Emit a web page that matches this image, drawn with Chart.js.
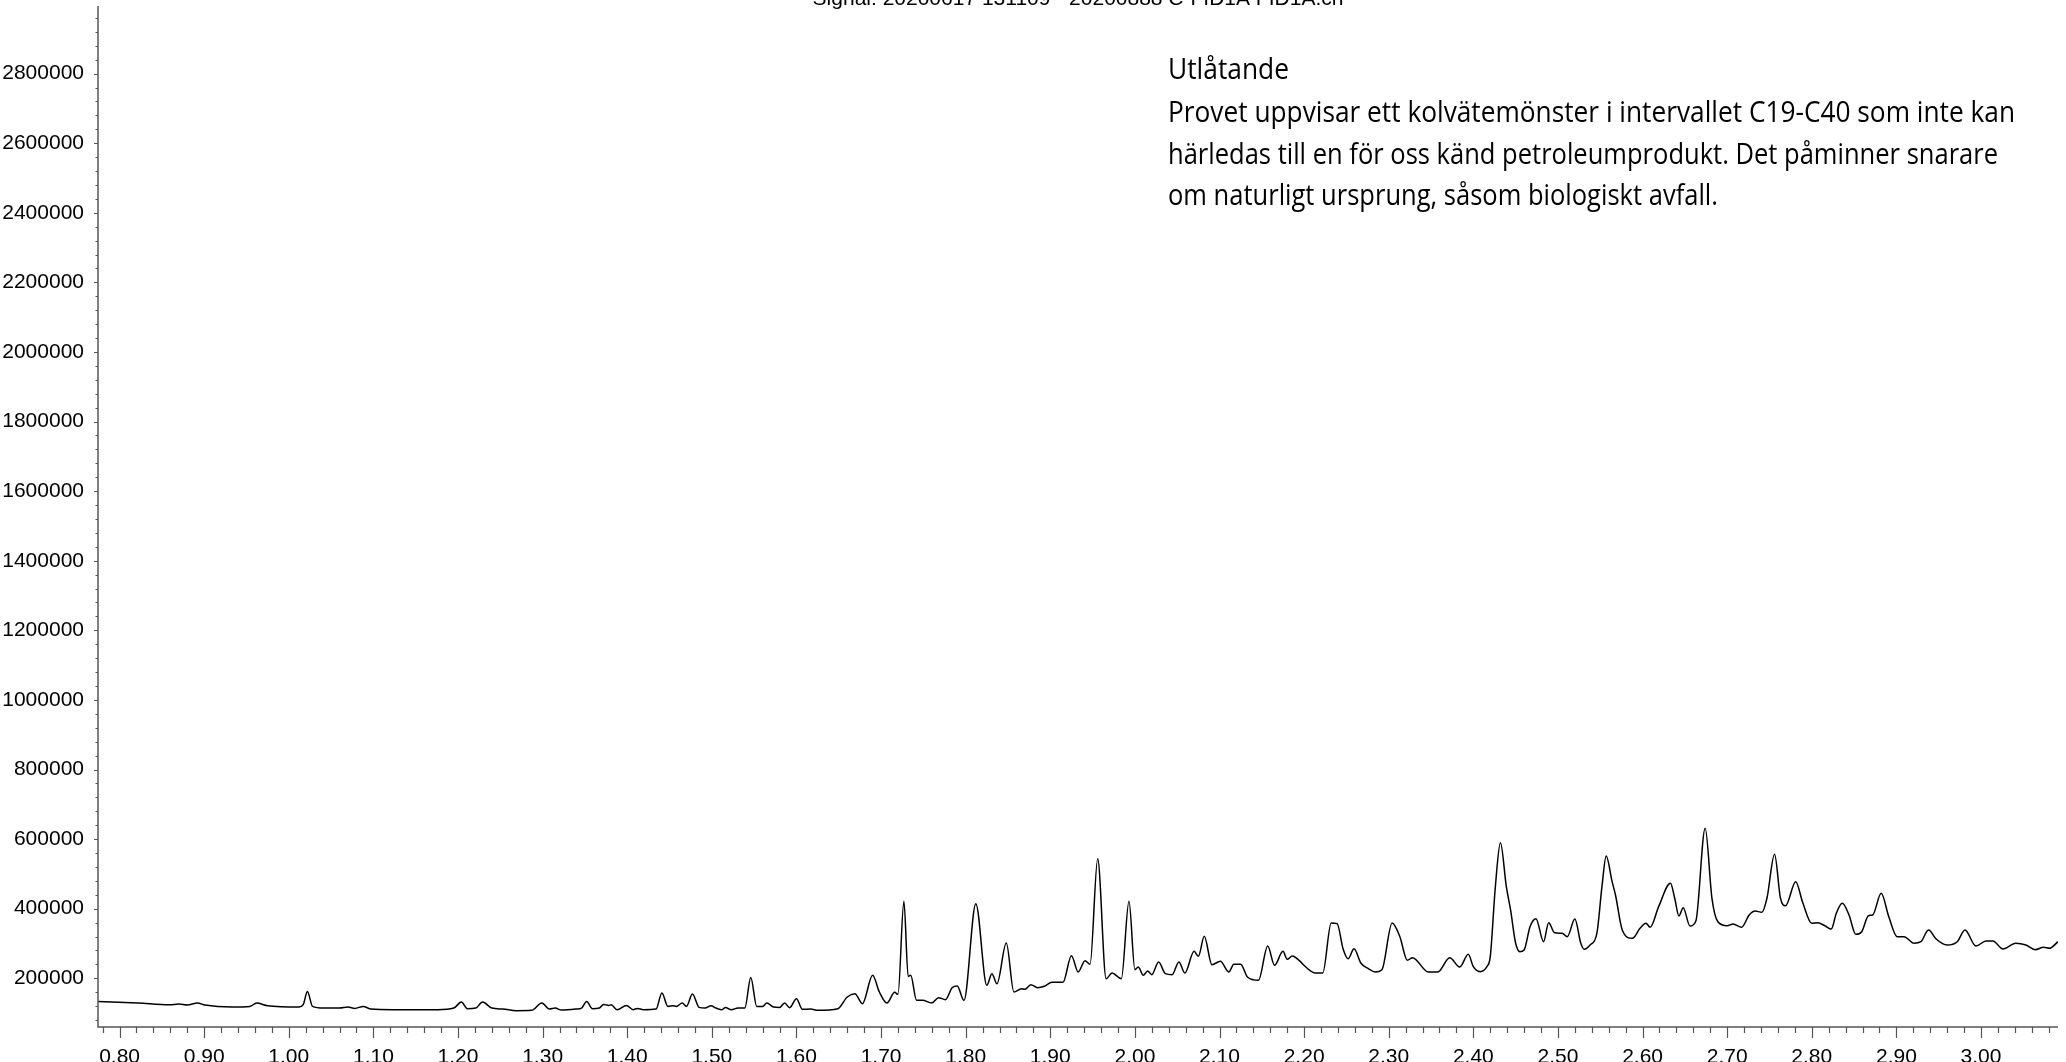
<!DOCTYPE html>
<html>
<head>
<meta charset="utf-8">
<script src="https://cdn.jsdelivr.net/npm/chart.js@4.4.1/dist/chart.umd.min.js"></script>
<style>
  html, body { margin: 0; padding: 0; background: #fff; overflow: hidden; }
  #wrap { width: 2066px; height: 1062px; }
</style>
</head>
<body>
<div id="wrap"><canvas id="chromatogram" width="2066" height="1062"></canvas></div>
<script>
// Retention time (min) and detector response (counts) along the FID trace
const retentionTime = [
  0.7745, 0.822, 0.859, 0.870, 0.880, 0.892, 0.901, 0.933, 0.954, 0.962, 0.975,
  1.012, 1.017, 1.022, 1.028, 1.041, 1.060, 1.070, 1.078, 1.088, 1.097, 1.123,
  1.176, 1.195, 1.204, 1.211, 1.221, 1.229, 1.240, 1.253, 1.269, 1.287, 1.299,
  1.308, 1.315, 1.322, 1.340, 1.346, 1.352, 1.359, 1.367, 1.372, 1.378, 1.381,
  1.388, 1.399, 1.407, 1.412, 1.419, 1.434, 1.441, 1.448, 1.454, 1.458, 1.465,
  1.470, 1.477, 1.485, 1.492, 1.499, 1.505, 1.512, 1.516, 1.523, 1.531, 1.539,
  1.546, 1.553, 1.560, 1.565, 1.573, 1.580, 1.586, 1.592, 1.600, 1.607, 1.617,
  1.625, 1.649, 1.660, 1.669, 1.678, 1.690, 1.698, 1.707, 1.716, 1.720, 1.727,
  1.732, 1.735, 1.742, 1.749, 1.760, 1.768, 1.776, 1.784, 1.790, 1.798, 1.812,
  1.825, 1.831, 1.837, 1.848, 1.857, 1.866, 1.870, 1.877, 1.885, 1.893, 1.902,
  1.915, 1.925, 1.933, 1.941, 1.947, 1.956, 1.966, 1.973, 1.984, 1.993, 2.000,
  2.004, 2.010, 2.015, 2.020, 2.028, 2.036, 2.044, 2.052, 2.059, 2.070, 2.075,
  2.082, 2.091, 2.101, 2.111, 2.117, 2.125, 2.133, 2.146, 2.157, 2.165, 2.175,
  2.180, 2.186, 2.194, 2.202, 2.213, 2.222, 2.232, 2.239, 2.246, 2.252, 2.259,
  2.267, 2.276, 2.284, 2.292, 2.304, 2.313, 2.322, 2.328, 2.347, 2.358, 2.372,
  2.384, 2.394, 2.400, 2.408, 2.416, 2.420, 2.426, 2.432, 2.439, 2.444, 2.450,
  2.455, 2.460, 2.467, 2.474, 2.483, 2.489, 2.496, 2.505, 2.511, 2.520, 2.527,
  2.531, 2.538, 2.546, 2.552, 2.557, 2.564, 2.568, 2.576, 2.588, 2.597, 2.604,
  2.609, 2.619, 2.633, 2.638, 2.643, 2.648, 2.656, 2.663, 2.674, 2.682, 2.689,
  2.700, 2.707, 2.717, 2.726, 2.733, 2.741, 2.747, 2.756, 2.763, 2.769, 2.781,
  2.789, 2.800, 2.807, 2.816, 2.823, 2.829, 2.836, 2.844, 2.852, 2.859, 2.867,
  2.872, 2.882, 2.891, 2.901, 2.909, 2.921, 2.929, 2.938, 2.947, 2.960, 2.972,
  2.981, 2.994, 3.006, 3.014, 3.026, 3.041, 3.053, 3.064, 3.074, 3.081, 3.091
];

const signal = [
  133500, 128800, 124000, 125900, 123000, 128800, 123000, 117300, 119200, 128800, 121100,
  117300, 124000, 162200, 119200, 114400, 114400, 117300, 113500, 119200, 111600, 109700,
  109700, 114400, 131600, 112500, 114400, 131600, 114400, 111600, 106800, 107800, 128800,
  111600, 114400, 108700, 111600, 114400, 133500, 112500, 114400, 125000, 122000, 124000,
  109700, 122000, 109700, 113500, 109700, 111600, 157400, 119200, 121100, 119200, 128800,
  119200, 154500, 116400, 114400, 121100, 114400, 109700, 116400, 109700, 114400, 114400,
  202300, 119200, 119200, 128800, 117300, 116000, 129000, 115600, 141400, 110800, 111700,
  107900, 112700, 146200, 155800, 127100, 208500, 160600, 129000, 159600, 153900, 421100,
  205600, 208500, 136600, 136600, 129000, 144300, 138600, 173000, 177800, 136600, 414400,
  179700, 213300, 184500, 301400, 160600, 170200, 168200, 181700, 173000, 176900, 188400,
  188400, 265000, 218100, 250600, 240100, 543700, 198900, 215200, 198900, 421100, 224800,
  232400, 208500, 221000, 210400, 246800, 213300, 210400, 246800, 215200, 277400, 263100,
  320600, 239100, 248700, 218100, 240100, 240100, 203700, 194100, 292800, 237200, 277400,
  254500, 264000, 251600, 232400, 215200, 215200, 358900, 357000, 285100, 256400, 285100,
  243900, 227600, 218100, 224800, 358900, 320600, 251600, 259200, 218100, 218100, 259200,
  232400, 268800, 233400, 219000, 233400, 262000, 463200, 589700, 463200, 396300, 300600,
  276400, 281300, 348300, 371300, 305200, 359800, 331000, 329300, 319500, 370400, 300600,
  283300, 295700, 329300, 463200, 551400, 477600, 439400, 338800, 314900, 343700, 358000,
  346600, 405800, 473000, 429900, 379000, 402900, 350300, 364700, 631000, 429900, 362600,
  351100, 356000, 346600, 381900, 393400, 389700, 429900, 556300, 429900, 408600, 477600,
  420100, 358000, 359800, 350300, 341700, 386800, 415500, 381900, 326400, 333900, 379900,
  381900, 444300, 377000, 319500, 319500, 300600, 305200, 338800, 312900, 295700, 305200,
  338800, 292800, 307200, 307200, 284200, 300600, 295700, 282200, 289100, 286200, 305200
];

// Labelled axis ticks
const xTickValues = [0.80, 0.90, 1.00, 1.10, 1.20, 1.30, 1.40, 1.50, 1.60, 1.70, 1.80, 1.90,
                     2.00, 2.10, 2.20, 2.30, 2.40, 2.50, 2.60, 2.70, 2.80, 2.90, 3.00];
const yTickValues = [200000, 400000, 600000, 800000, 1000000, 1200000, 1400000,
                     1600000, 1800000, 2000000, 2200000, 2400000, 2600000, 2800000];

// Header line and report text
const signalTitle = 'Signal: 20200617 131109 - 20200888 C-FID1A FID1A.ch';
const reportLines = [
  'Utlåtande',
  'Provet uppvisar ett kolvätemönster i intervallet C19-C40 som inte kan',
  'härledas till en för oss känd petroleumprodukt. Det påminner snarare',
  'om naturligt ursprung, såsom biologiskt avfall.'
];

const X_MIN = 0.7745, X_MAX = 3.091;
const Y_MIN = 60000, Y_MAX = 3000000;
const AXIS_COLOR = '#555';

// Axis lines with major and minor tick marks
const axesPlugin = {
  id: 'axes',
  afterDraw(chart) {
    const { ctx, chartArea: a, scales: { x, y } } = chart;
    ctx.save();
    ctx.strokeStyle = AXIS_COLOR;
    ctx.lineWidth = 1.5;
    ctx.beginPath();
    ctx.moveTo(a.left, 6);
    ctx.lineTo(a.left, a.bottom);
    ctx.lineTo(a.right, a.bottom);
    ctx.stroke();

    ctx.lineWidth = 1.2;
    ctx.beginPath();
    // x ticks: every 0.02, long at each 0.10
    for (let i = 39; i <= 154; i++) {
      const v = i / 50;
      if (v < X_MIN || v > X_MAX) continue;
      const px = Math.round(x.getPixelForValue(v)) + 0.5;
      const len = (i % 5 === 0) ? 11 : 6;
      ctx.moveTo(px, a.bottom);
      ctx.lineTo(px, a.bottom + len);
    }
    // y ticks: every 40000, long at each 200000
    for (let v = 80000; v <= Y_MAX; v += 40000) {
      const py = Math.round(y.getPixelForValue(v)) + 0.5;
      if (py < 6) continue;
      const len = (v % 200000 === 0) ? 4 : 2.5;
      ctx.moveTo(a.left, py);
      ctx.lineTo(a.left - len, py);
    }
    ctx.stroke();
    ctx.restore();
  }
};

// Signal header (clipped at the top edge) and the report statement
const textPlugin = {
  id: 'reportText',
  afterDraw(chart) {
    const { ctx } = chart;
    ctx.save();
    ctx.fillStyle = '#000';
    ctx.font = '21px "Liberation Sans", Arial, sans-serif';
    ctx.textAlign = 'center';
    ctx.textBaseline = 'alphabetic';
    ctx.fillText(signalTitle, 1078, 5);

    // condensed humanist face for the statement, each line set to its column width
    ctx.font = '29px "Open Sans", Lato, sans-serif';
    ctx.textAlign = 'left';
    const lineWidths = [121, 847, 830, 550];
    const baselines = [79, 122, 164, 205];
    reportLines.forEach((line, i) => {
      const sx = lineWidths[i] / ctx.measureText(line).width;
      ctx.save();
      ctx.translate(1168, baselines[i]);
      ctx.scale(sx, 1);
      ctx.fillText(line, 0, 0);
      ctx.restore();
    });
    ctx.restore();
  }
};

const tickFont = { family: '"Liberation Sans", Arial, sans-serif', size: 21 };

new Chart(document.getElementById('chromatogram'), {
  type: 'line',
  data: {
    datasets: [{
      data: retentionTime.map((t, i) => ({ x: t, y: signal[i] })),
      borderColor: '#000',
      borderWidth: 1.5,
      pointRadius: 0,
      fill: false,
      cubicInterpolationMode: 'monotone'
    }]
  },
  options: {
    responsive: false,
    animation: false,
    devicePixelRatio: 1,
    layout: { padding: { top: 4, right: 8, left: 0, bottom: 0 } },
    plugins: { legend: { display: false }, tooltip: { enabled: false } },
    scales: {
      x: {
        type: 'linear',
        min: X_MIN,
        max: X_MAX,
        grid: { display: false },
        border: { display: false },
        afterBuildTicks(scale) { scale.ticks = xTickValues.map(v => ({ value: v })); },
        afterFit(scale) {
          scale.height = 35;
          scale.paddingLeft = 0;
          scale.paddingRight = 0;
        },
        ticks: {
          autoSkip: false,
          maxRotation: 0,
          padding: 10,
          color: '#000',
          font: tickFont,
          callback: v => Number(v).toFixed(2)
        }
      },
      y: {
        type: 'linear',
        min: Y_MIN,
        max: Y_MAX,
        grid: { display: false },
        border: { display: false },
        afterBuildTicks(scale) { scale.ticks = yTickValues.map(v => ({ value: v })); },
        afterFit(scale) {
          scale.width = 98;
          scale.paddingTop = 0;
          scale.paddingBottom = 0;
        },
        ticks: {
          autoSkip: false,
          padding: 6,
          color: '#000',
          font: tickFont,
          callback: v => String(v)
        }
      }
    }
  },
  plugins: [axesPlugin, textPlugin]
});
</script>
</body>
</html>
